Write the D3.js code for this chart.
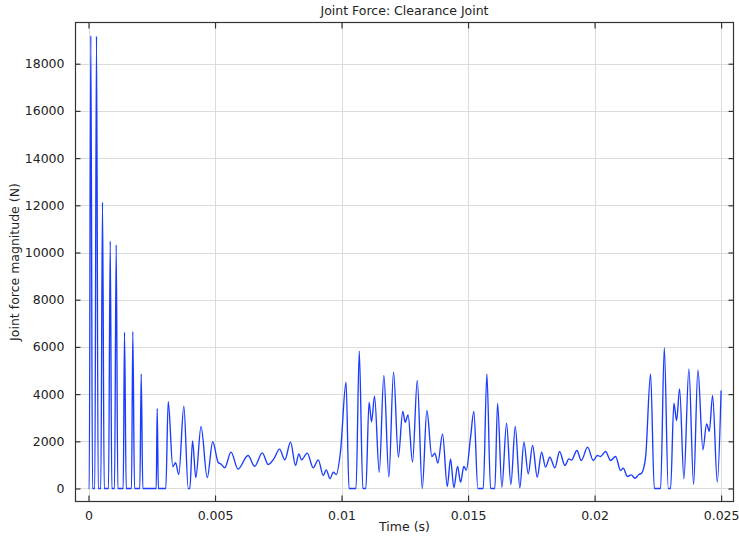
<!DOCTYPE html>
<html>
<head>
<meta charset="utf-8">
<script src="https://cdn.jsdelivr.net/npm/d3@7"></script>
<style>
  body { margin: 0; background: #fff; }
  text { font-family: "DejaVu Sans", sans-serif; fill: #222; }
</style>
</head>
<body>
<script>
// time (s) and joint force magnitude (N)
const time = [
  0, 0.000028, 0.000091, 0.000158, 0.000249, 0.000316, 0.000383, 0.000486, 0.000553, 0.000621,
  0.000791, 0.000858, 0.000921, 0.001028, 0.001095, 0.001158, 0.001372, 0.001423, 0.001490, 0.001700,
  0.001751, 0.001818, 0.002028, 0.002083, 0.002146, 0.002676, 0.002715, 0.002760, 0.003055, 0.003150,
  0.003332, 0.003439, 0.003569, 0.003767, 0.003941, 0.004004, 0.004111, 0.004241, 0.004447, 0.004692,
  0.004909, 0.005126, 0.005245, 0.005383, 0.005632, 0.005909, 0.006304, 0.006569, 0.006866, 0.007103,
  0.007324, 0.007549, 0.007759, 0.007984, 0.008182, 0.008312, 0.008419, 0.008644, 0.008881, 0.009079,
  0.009277, 0.009395, 0.009545, 0.009676, 0.009791, 0.009960, 0.010178, 0.010296, 0.010573, 0.010700,
  0.010842, 0.010961, 0.011087, 0.011186, 0.011304, 0.011490, 0.011672, 0.011870, 0.012055, 0.012245,
  0.012419, 0.012518, 0.012628, 0.012806, 0.012992, 0.013190, 0.013372, 0.013569, 0.013688, 0.013806,
  0.013992, 0.014178, 0.014308, 0.014439, 0.014585, 0.014704, 0.014834, 0.014929, 0.015099, 0.015229,
  0.015387, 0.015601, 0.015743, 0.015889, 0.016059, 0.016166, 0.016336, 0.016522, 0.016692, 0.016866,
  0.017047, 0.017206, 0.017379, 0.017549, 0.017735, 0.017905, 0.018063, 0.018233, 0.018431, 0.018617,
  0.018826, 0.018984, 0.019091, 0.019300, 0.019474, 0.019723, 0.019949, 0.020107, 0.020237, 0.020435,
  0.020632, 0.020830, 0.021028, 0.021134, 0.021292, 0.021451, 0.021593, 0.021751, 0.021858, 0.022016,
  0.022213, 0.022360, 0.022609, 0.022755, 0.022913, 0.023004, 0.023134, 0.023241, 0.023360, 0.023530,
  0.023727, 0.023913, 0.024083, 0.024281, 0.024427, 0.024534, 0.024664, 0.024850, 0.025000
]
const force = [
  0, 0, 19194, 0, 0, 19165, 0, 0, 12130, 0,
  0, 10480, 0, 0, 10320, 0, 0, 6620, 0, 0,
  6650, 0, 0, 4860, 0, 0, 3400, 0, 0, 3690,
  920, 1090, 593, 3490, 0, 0, 2020, 460, 2630, 460,
  1980, 1100, 1030, 876, 1540, 820, 1400, 940, 1510, 1017,
  1257, 1666, 1215, 1962, 975, 1469, 1215, 1497, 876, 1215,
  551, 791, 420, 690, 593, 1580, 4504, 0, 0, 5817,
  0, 0, 3657, 2830, 3911, 680, 4788, 479, 4928, 1326,
  3262, 2809, 3122, 1116, 4576, 0, 3305, 1356, 1497, 1072,
  2317, 85, 1257, 30, 932, 267, 932, 780, 2174, 3262,
  0, 0, 4860, 0, 0, 3614, 55, 2767, 169, 2627,
  30, 1962, 623, 1822, 479, 1538, 904, 1326, 876, 1568,
  975, 1257, 1200, 1610, 1186, 1751, 1186, 1398, 1356, 1568,
  1186, 1356, 763, 862, 508, 580, 436, 593, 648, 1326,
  4860, 0, 0, 5961, 0, 0, 3614, 2881, 4224, 411,
  5072, 169, 5029, 1640, 2741, 2428, 3940, 267, 4150
]
const xTicks = [0, 0.005, 0.01, 0.015, 0.02, 0.025]
const xTickLabels = ['0', '0.005', '0.01', '0.015', '0.02', '0.025']
const yTicks = [0, 2000, 4000, 6000, 8000, 10000, 12000, 14000, 16000, 18000]

const W = 739, H = 537
const pLeft = 75.5, pRight = 733.5, pTop = 22.5, pBottom = 501.5

var svg = d3.select('body').append('svg').attr('width', W).attr('height', H)

var x = d3.scaleLinear().domain([-0.000514, 0.02549]).range([pLeft, pRight])
var y = d3.scaleLinear().domain([-551, 19746]).range([pBottom, pTop])

// grid
var grid = svg.append('g')
grid.selectAll('line.gx').data(xTicks).join('line')
  .attr('x1', d => Math.round(x(d)) + 0.5).attr('x2', d => Math.round(x(d)) + 0.5)
  .attr('y1', pTop).attr('y2', pBottom)
  .attr('stroke', '#dcdcdc').attr('stroke-width', 1)
grid.selectAll('line.gy').data(yTicks).join('line')
  .attr('y1', d => Math.round(y(d)) + 0.5).attr('y2', d => Math.round(y(d)) + 0.5)
  .attr('x1', pLeft).attr('x2', pRight)
  .attr('stroke', '#dcdcdc').attr('stroke-width', 1)

// curve
var line = d3.line()
  .x((d, i) => x(time[i]))
  .y(d => y(d))
  .curve(d3.curveMonotoneX)

svg.append('path')
  .attr('d', line(force))
  .attr('fill', 'none')
  .attr('stroke', '#1a3cff')
  .attr('stroke-width', 1.35)
  .attr('stroke-linejoin', 'round')

// axes with inward ticks on all four sides
function styleAxis(g) {
  g.select('.domain').remove()
  g.selectAll('.tick line').attr('stroke', '#333').attr('stroke-width', 1.2)
  g.selectAll('.tick text').attr('font-size', '12.5px').attr('font-family', '"DejaVu Sans", sans-serif').attr('fill', '#222')
}
svg.append('g').attr('transform', `translate(0,${pBottom})`)
  .call(d3.axisBottom(x).tickValues(xTicks).tickFormat((d, i) => xTickLabels[i]).tickSizeInner(-6).tickSizeOuter(0).tickPadding(10))
  .call(styleAxis)
svg.append('g').attr('transform', `translate(0,${pTop})`)
  .call(d3.axisTop(x).tickValues(xTicks).tickFormat('').tickSizeInner(-6).tickSizeOuter(0))
  .call(styleAxis)
svg.append('g').attr('transform', `translate(${pLeft},0)`)
  .call(d3.axisLeft(y).tickValues(yTicks).tickFormat(d => d).tickSizeInner(-5).tickSizeOuter(0).tickPadding(11))
  .call(styleAxis)
svg.append('g').attr('transform', `translate(${pRight},0)`)
  .call(d3.axisRight(y).tickValues(yTicks).tickFormat('').tickSizeInner(-5).tickSizeOuter(0))
  .call(styleAxis)

// frame
svg.append('rect')
  .attr('x', pLeft).attr('y', pTop).attr('width', pRight - pLeft).attr('height', pBottom - pTop)
  .attr('fill', 'none').attr('stroke', '#333').attr('stroke-width', 1.2)

// titles
svg.append('text').attr('x', (pLeft + pRight) / 2).attr('y', 15)
  .attr('text-anchor', 'middle').attr('font-size', '12.5px')
  .text('Joint Force: Clearance Joint')
svg.append('text').attr('x', (pLeft + pRight) / 2).attr('y', 531)
  .attr('text-anchor', 'middle').attr('font-size', '12.5px')
  .text('Time (s)')
svg.append('text').attr('transform', `translate(19,${(pTop + pBottom) / 2}) rotate(-90)`)
  .attr('text-anchor', 'middle').attr('font-size', '12.5px')
  .text('Joint force magnitude (N)')
</script>
</body>
</html>
